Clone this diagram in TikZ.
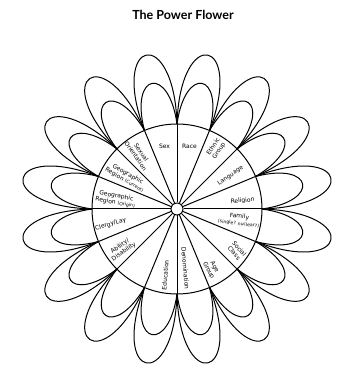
\documentclass[tikz,border=0pt]{standalone}
\usepackage{fontspec}
\setmainfont{DejaVu Sans}
\newfontfamily\titlefont{Lato}
\usetikzlibrary{positioning}
\newcommand{\subtxt}{\fontsize{4.6}{5}\selectfont}
\tikzset{
  lbl/.style={inner sep=0pt, align=center, font=\fontsize{6}{6.8}\selectfont},
  petal/.style={line width=1pt},
}

\begin{document}
\begin{tikzpicture}[x=1pt, y=1pt, line width=1pt]
  \useasboundingbox (-177,-157) rectangle (160,209);
  \node[font=\titlefont\bfseries\fontsize{12.5}{14}\selectfont] (title) at (6,194) {The Power Flower};
  % outer and inner petals, one pair per sector
  \foreach \a in {0,22.5,...,337.5} {
    \pgfmathsetmacro{\m}{\a+11.25}
    \pgfmathsetmacro{\b}{\a+22.5}
    \draw[petal] (\a:85) .. controls ({\m-10.3}:184.5) and ({\m+10.3}:184.5) .. (\b:85);
    \draw[petal] (\a:85) .. controls ({\m-8}:144.4) and ({\m+8}:144.4) .. (\b:85);
  }
  \draw[fill=white] (0,0) circle (85);
  \node[circle, draw, fill=white, minimum size=12pt, inner sep=0pt] (hub) at (0,0) {};
  \foreach \a [count=\i] in {0,22.5,...,337.5} {
    \coordinate (j\i) at (\a:85);
    \draw (hub) -- (j\i);
  }
  % sector labels
  \node[lbl] (sex) at (101.25:64) {Sex};
  \node[lbl] (race) at (78.75:64) {Race};
  \node[lbl, rotate=56] (ethnic) at (57:72) {Ethnic\\Group};
  \node[lbl, rotate=34] (language) at (32:63) {Language};
  \node[lbl, rotate=5] (religion) at (7:66) {Religion};
  \node[lbl, rotate=-7] (family) at (-10:63) {Family\\{\subtxt(single? nuclear?)}};
  \node[lbl, rotate=-50] (social) at (-35:73) {Social\\Class};
  \node[lbl, rotate=-62] (age) at (-60:69) {Age\\Group};
  \node[lbl, rotate=-85] (denom) at (-82:60) {Denomination};
  \node[lbl, rotate=85] (education) at (260:67) {Education};
  \node[lbl, rotate=35] (ability) at (216:68) {Ability/\\Disability};
  \node[lbl, rotate=17] (clergy) at (193:68) {Clergy/Lay};
  \node[lbl, rotate=-10] (origin) at (171:62) {Geographic\\Region {\subtxt(Origin)}};
  \node[lbl, rotate=-30] (current) at (148:60) {Geographic\\Region {\subtxt(Current)}};
  \node[lbl, rotate=-55] (orient) at (125:67) {Sexual\\Orientation};
\end{tikzpicture}
\end{document}
